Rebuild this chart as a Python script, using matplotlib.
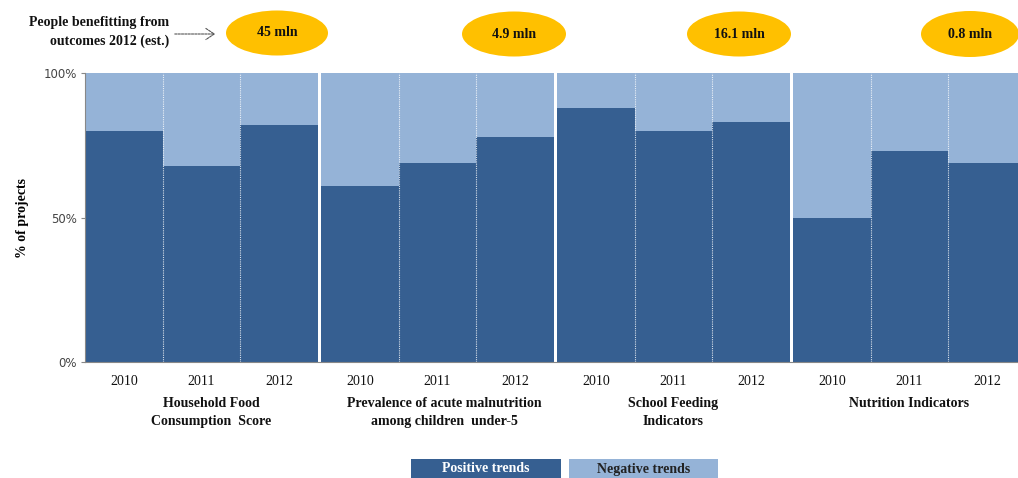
import matplotlib
matplotlib.use("Agg")
import matplotlib.pyplot as plt
from matplotlib.patches import Ellipse, Rectangle, FancyArrowPatch

# ---- data ----
categories = ["Household Food\nConsumption  Score",
              "Prevalence of acute malnutrition\namong children  under-5",
              "School Feeding\nIndicators",
              "Nutrition Indicators"]
years = ["2010", "2011", "2012"]
positive = [[80, 68, 82], [61, 69, 78], [88, 80, 83], [50, 73, 69]]
negative = [[100 - v for v in g] for g in positive]
beneficiaries = ["45 mln", "4.9 mln", "16.1 mln", "0.8 mln"]
yticks = [0, 50, 100]
yticklabels = ["0%", "50%", "100%"]

DARK = "#365F91"
LIGHT = "#95B3D7"
GOLD = "#FFC000"
SERIF = "Liberation Serif"

W, H = 1018, 478
fig = plt.figure(figsize=(W / 100, H / 100), dpi=100)

def fx(px):
    return px / W

def fy(py):
    return 1 - py / H

ax_left, ax_right = 85, 1018
ax_top, ax_bot = 73.3, 362.3
ax = fig.add_axes([fx(ax_left), fy(ax_bot), fx(ax_right - ax_left), (ax_bot - ax_top) / H])

unit_px = 77.6
gstep = 236.0 / unit_px
xs, pos_vals, neg_vals = [], [], []
for gi, g in enumerate(positive):
    for bi, v in enumerate(g):
        xs.append(gi * gstep + bi + 0.5)
        pos_vals.append(v)
        neg_vals.append(negative[gi][bi])

ax.bar(xs, pos_vals, width=1.0, color=DARK, edgecolor="none")
ax.bar(xs, neg_vals, width=1.0, bottom=pos_vals, color=LIGHT, edgecolor="none")

# dotted separators inside groups
for gi in range(len(positive)):
    for bi in (1, 2):
        ax.axvline(gi * gstep + bi, color="white", lw=0.8, ls=(0, (1, 1)), alpha=0.8)

ax.set_xlim(0, (ax_right - ax_left) / unit_px)
ax.set_ylim(0, 100)
ax.set_yticks(yticks)
ax.set_yticklabels(yticklabels, fontsize=8.5, color="#444444", family="DejaVu Sans")
ax.tick_params(axis="y", length=3, width=0.8, color="#888888", pad=3)
ax.set_xticks([])
for s in ("top", "right"):
    ax.spines[s].set_visible(False)
for s in ("left", "bottom"):
    ax.spines[s].set_color("#888888")
    ax.spines[s].set_linewidth(0.8)

# year labels and category labels
for i, x in enumerate(xs):
    ax.text(x, -6.5, years[i % 3], ha="center", va="center", fontsize=10,
            family=SERIF, color="#111111")
cat_offsets = [0.13, 0.09, 0.0, 0.0]
for gi, c in enumerate(categories):
    ax.text(gi * gstep + 1.5 + cat_offsets[gi], -12.0, c, ha="center", va="top",
            fontsize=10, fontweight="bold", family=SERIF, color="#111111",
            linespacing=1.5)

ax.set_ylabel("% of projects", fontsize=10, fontweight="bold", family=SERIF,
              labelpad=10)

# ellipses with beneficiaries
ell = [(277, 33, 102, 45), (514, 34, 104, 45), (739, 34, 104, 45), (970, 34, 98, 46)]
for (cx, cy, ew, eh), t in zip(ell, beneficiaries):
    fig.patches.append(Ellipse((fx(cx), fy(cy)), fx(ew), eh / H, transform=fig.transFigure,
                               facecolor=GOLD, edgecolor="none"))
    fig.text(fx(cx), fy(cy), t, ha="center", va="center", fontsize=10,
             fontweight="bold", family=SERIF, color="#111111")

fig.text(fx(169), fy(32), "People benefitting from\noutcomes 2012 (est.)", ha="right",
         va="center", fontsize=10, fontweight="bold", family=SERIF, color="#111111",
         linespacing=1.55)
fig.add_artist(FancyArrowPatch((fx(172), fy(34)), (fx(218), fy(34)),
               transform=fig.transFigure, arrowstyle="->,head_length=6,head_width=4",
               color="#555555", lw=0.8, linestyle=(0, (2, 1))))

# legend boxes
legend_items = [("Positive trends", DARK, "white", 411, 561),
                ("Negative trends", LIGHT, "#222222", 569, 718)]
for label, fc, tc, x0, x1 in legend_items:
    fig.patches.append(Rectangle((fx(x0), 0), fx(x1 - x0), (478 - 459) / H,
                                 transform=fig.transFigure, facecolor=fc, edgecolor="none"))
    fig.text(fx((x0 + x1) / 2), fy(469), label, ha="center", va="center", fontsize=10,
             fontweight="bold", family=SERIF, color=tc)

fig.savefig("out.png", dpi=100)
